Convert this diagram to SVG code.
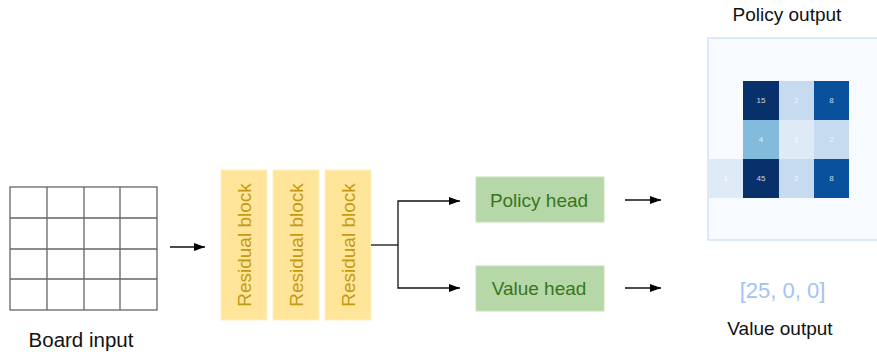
<svg xmlns="http://www.w3.org/2000/svg" width="877" height="354" viewBox="0 0 877 354">
  <style>
    text { font-family: "Liberation Sans", Arial, sans-serif; }
    .label { fill: #111; font-size: 19px; text-anchor: middle; }
    .grid { fill: none; stroke: #666; stroke-width: 1.3; }
    .res rect { fill: #ffe599; stroke: #fff0c4; stroke-width: 1; }
    .res text { fill: #c49a12; font-size: 19px; text-anchor: middle; dominant-baseline: central; }
    .head rect { fill: #b6d7a8; stroke: #c6e0bb; stroke-width: 1; }
    .head text { fill: #38761d; font-size: 19px; text-anchor: middle; }
    .conn { fill: none; stroke: #111; stroke-width: 1.3; }
    .cell text { fill: #fff; fill-opacity: 0.8; font-size: 8px; text-anchor: middle; dominant-baseline: central; }
  </style>
  <defs>
    <marker id="arrow" viewBox="0 0 11 8" refX="11" refY="4" markerWidth="11" markerHeight="8" markerUnits="userSpaceOnUse" orient="auto">
      <path d="M0,0 L11,4 L0,8 Z" fill="#000"/>
    </marker>
  </defs>

  <rect width="877" height="354" fill="#fff"/>

  <!-- board input: 4x4 grid -->
  <g id="board">
    <rect class="grid" x="10" y="187" width="147" height="123"/>
    <path class="grid" d="M47,187 V310 M84,187 V310 M120,187 V310 M10,218 H157 M10,249 H157 M10,279 H157"/>
    <text class="label" x="81" y="347" style="font-size:20.5px">Board input</text>
  </g>

  <!-- residual tower -->
  <g id="res1" class="res">
    <rect x="221" y="170" width="46" height="150"/>
    <text transform="translate(244,245) rotate(-90)">Residual block</text>
  </g>
  <g id="res2" class="res">
    <rect x="273" y="170" width="46" height="150"/>
    <text transform="translate(296,245) rotate(-90)">Residual block</text>
  </g>
  <g id="res3" class="res">
    <rect x="325" y="170" width="46" height="150"/>
    <text transform="translate(348,245) rotate(-90)">Residual block</text>
  </g>

  <!-- heads -->
  <g id="policy-head" class="head">
    <rect x="476" y="177" width="128" height="45"/>
    <text x="539" y="207">Policy head</text>
  </g>
  <g id="value-head" class="head">
    <rect x="476" y="266" width="128" height="45"/>
    <text x="539" y="295">Value head</text>
  </g>

  <!-- policy output heatmap -->
  <g id="policy-output">
    <text class="label" x="787" y="21">Policy output</text>
    <rect x="708" y="38" width="180" height="202" fill="#f7fbff" stroke="#d3e2f7" stroke-width="1.5"/>
    <g class="cell">
      <rect x="743" y="81" width="36" height="39" fill="#08306b"/><text x="761" y="100.5">15</text>
      <rect x="779" y="81" width="35" height="39" fill="#c6dbef"/><text x="796.5" y="100.5">2</text>
      <rect x="814" y="81" width="35" height="39" fill="#08519c"/><text x="831.5" y="100.5">8</text>
      <rect x="743" y="120" width="36" height="39" fill="#82bbdb"/><text x="761" y="139.5">4</text>
      <rect x="779" y="120" width="35" height="39" fill="#deebf7"/><text x="796.5" y="139.5">1</text>
      <rect x="814" y="120" width="35" height="39" fill="#c6dbef"/><text x="831.5" y="139.5">2</text>
      <rect x="709" y="159" width="34" height="39" fill="#deebf7"/><text x="726" y="178.5">1</text>
      <rect x="743" y="159" width="36" height="39" fill="#08306b"/><text x="761" y="178.5">45</text>
      <rect x="779" y="159" width="35" height="39" fill="#c6dbef"/><text x="796.5" y="178.5">2</text>
      <rect x="814" y="159" width="35" height="39" fill="#08519c"/><text x="831.5" y="178.5">8</text>
    </g>
  </g>

  <!-- value output -->
  <g id="value-output">
    <text x="782.5" y="298" style="font-size:22px; fill:#a4c2f4; text-anchor:middle">[25, 0, 0]</text>
    <text class="label" x="780" y="335">Value output</text>
  </g>

  <!-- connectors -->
  <g id="connectors">
    <path class="conn" d="M170,247 H205" stroke="#444" marker-end="url(#arrow)"/>
    <path class="conn" d="M371,245 H398"/>
    <path class="conn" d="M398,245 V201 H460" marker-end="url(#arrow)"/>
    <path class="conn" d="M398,245 V288 H460" marker-end="url(#arrow)"/>
    <path class="conn" d="M625,200 H661" marker-end="url(#arrow)"/>
    <path class="conn" d="M625,288 H661" marker-end="url(#arrow)"/>
  </g>
</svg>
